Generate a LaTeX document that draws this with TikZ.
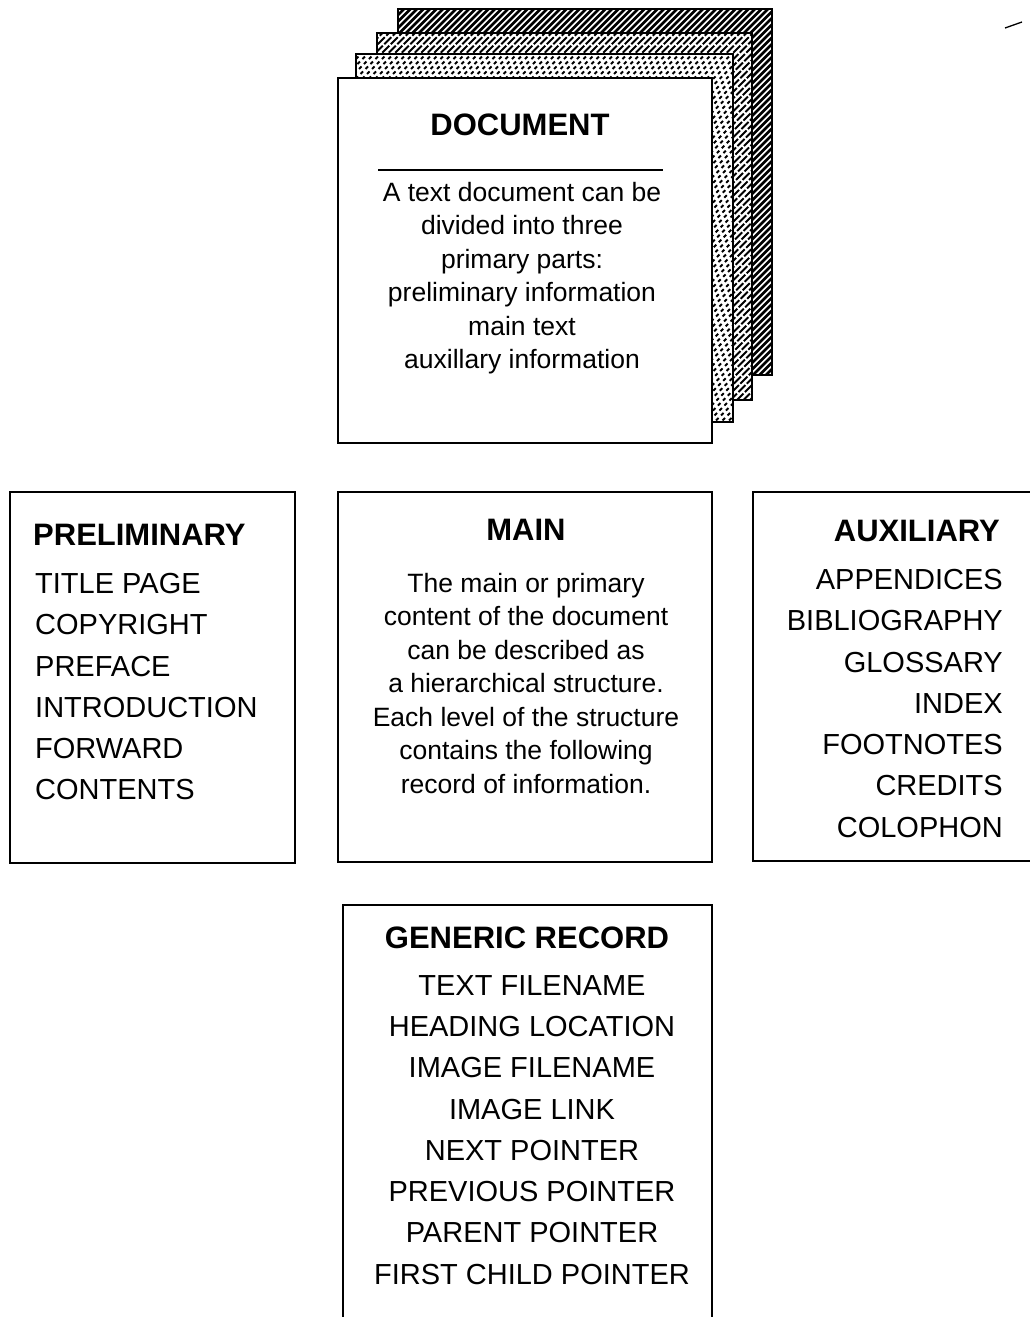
\documentclass[tikz,border=0pt]{standalone}
\usepackage{fontspec}
\setmainfont{Liberation Sans}
\begin{document}
\begin{tikzpicture}[x=1pt,y=-1pt,
  box/.style={draw, line width=2.6pt, fill=white, inner sep=0pt, outer sep=0pt},
  pageedge/.style={draw, line width=2.4pt},
  title/.style={font=\bfseries\fontsize{31}{37}\selectfont, inner sep=0pt},
  items/.style={font=\fontsize{29}{41.3}\selectfont, inner sep=0pt},
  prose/.style={font=\fontsize{26.5}{33.5}\selectfont, inner sep=0pt},
]
\useasboundingbox (0,0) rectangle (1029,1317);

% ---- stacked pages behind the document ----
% back page: dense solid hatching
\fill[white] (398,9) rectangle (772,375);
\begin{scope}
  \clip (398,9) rectangle (772,375);
  \foreach \c in {-60,-53.5,...,790} \draw[line width=2.6pt] (\c,460) -- ++(460,-460);
\end{scope}
\draw[pageedge] (398,9) rectangle (772,375);

% third page: lighter, broken hatching
\fill[white] (377,33) rectangle (752,400);
\begin{scope}
  \clip (377,33) rectangle (752,400);
  \foreach \c in {-90,-83.5,...,760} \draw[line width=1.8pt, dash pattern=on 10pt off 2pt] (\c,460) -- ++(460,-460);
\end{scope}
\draw[pageedge] (377,33) rectangle (752,400);

% second page: short dashes
\fill[white] (356,54) rectangle (733,422);
\begin{scope}
  \clip (356,54) rectangle (733,422);
  \foreach \c in {-110,-103.5,...,740} \draw[line width=1.8pt, dash pattern=on 3.5pt off 3.5pt] (\c,460) -- ++(460,-460);
\end{scope}
\draw[pageedge] (356,54) rectangle (733,422);

% front page
\node[box, anchor=north west, minimum width=374pt, minimum height=365pt] (docbox) at (338,78) {};
\node[title] (doctitle) at (520,125) {DOCUMENT};
\draw[line width=2pt] (378,170) -- (663,170);
\node[prose, align=center, anchor=north] (doctext) at (522,182)
  {A text document can be\\divided into three\\primary parts:\\preliminary information\\main text\\auxillary information};

% ---- the three parts ----
\node[box, anchor=north west, minimum width=285pt, minimum height=371pt] (prebox) at (10,492) {};
\node[title, anchor=west] (pretitle) at (33,535) {PRELIMINARY};
\node[items, align=left, anchor=north west] (preitems) at (35,573)
  {TITLE PAGE\\COPYRIGHT\\PREFACE\\INTRODUCTION\\FORWARD\\CONTENTS};

\node[box, anchor=north west, minimum width=374pt, minimum height=370pt] (mainbox) at (338,492) {};
\node[title] (maintitle) at (526,530) {MAIN};
\node[prose, align=center, anchor=north] (maintext) at (526,573)
  {The main or primary\\content of the document\\can be described as\\a hierarchical structure.\\Each level of the structure\\contains the following\\record of information.};

\node[box, anchor=north west, minimum width=290pt, minimum height=369pt] (auxbox) at (753,492) {};
\node[title, anchor=east] (auxtitle) at (1000,531) {AUXILIARY};
\node[items, align=right, anchor=north east] (auxitems) at (1003,569)
  {APPENDICES\\BIBLIOGRAPHY\\GLOSSARY\\INDEX\\FOOTNOTES\\CREDITS\\COLOPHON};

% ---- record layout ----
\node[box, anchor=north west, minimum width=369pt, minimum height=440pt] (recbox) at (343,905) {};
\node[title] (rectitle) at (527,938) {GENERIC RECORD};
\node[items, align=center, anchor=north] (recitems) at (532,975)
  {TEXT FILENAME\\HEADING LOCATION\\IMAGE FILENAME\\IMAGE LINK\\NEXT POINTER\\PREVIOUS POINTER\\PARENT POINTER\\FIRST CHILD POINTER};

% small pen stroke in the upper right corner
\coordinate (penA) at (1005,28);
\coordinate (penB) at (1022,22);
\draw[line width=1.3pt] (penA) -- (penB);
\end{tikzpicture}
\end{document}
